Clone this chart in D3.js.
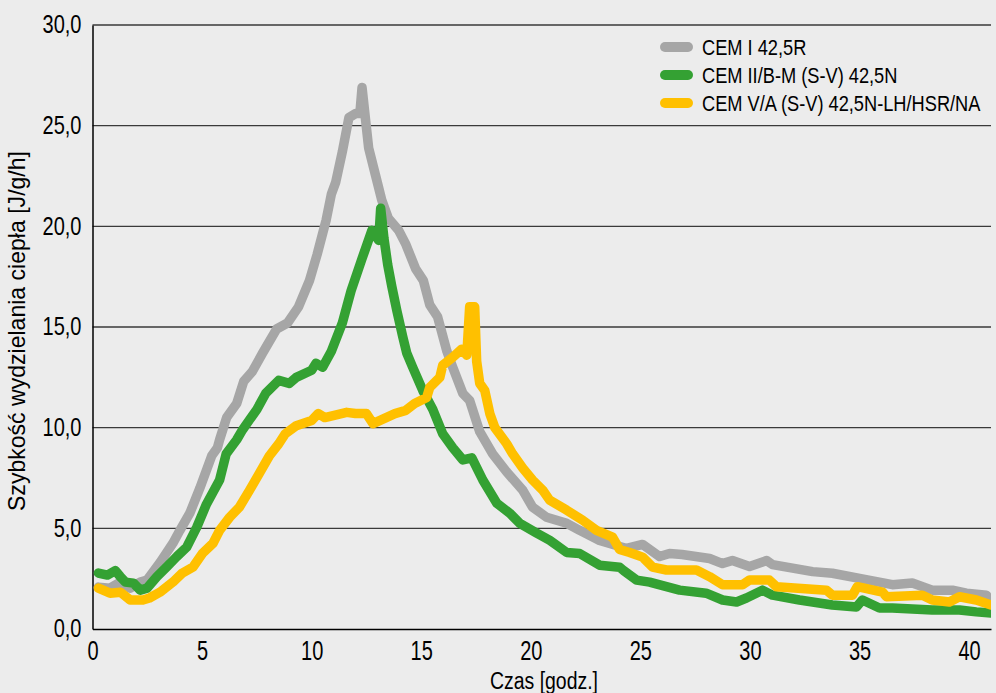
<!DOCTYPE html>
<html>
<head>
<meta charset="utf-8">
<script src="https://cdn.jsdelivr.net/npm/d3@7"></script>
<style>
  html, body { margin: 0; padding: 0; background: #ececec; }
  svg { display: block; }
  text { font-family: "Liberation Sans", Arial, sans-serif; fill: #000; }
</style>
</head>
<body>
<svg id="chart" width="996" height="693"></svg>
<script>
// ---- data (time [h], heat rate [J/g/h]) ----
const seriesNames = ["CEM I 42,5R", "CEM II/B-M (S-V) 42,5N", "CEM V/A (S-V) 42,5N-LH/HSR/NA"];
const seriesColors = ["#a6a6a6", "#34a133", "#ffc000"];

const cemI = [
  [0.27,2.08],[0.8,2.03],[1.27,2.33],[1.72,2.03],[2.18,2.33],[2.49,2.43],[3.08,3.3],[3.67,4.26],
  [3.99,4.9],[4.44,5.75],[4.9,7.0],[5.44,8.6],[5.7,9.0],[5.8,9.4],[6.12,10.5],[6.58,11.2],
  [6.9,12.3],[7.3,12.8],[7.76,13.7],[8.4,14.9],[8.9,15.2],[9.4,16.0],[9.9,17.3],[10.25,18.6],
  [10.66,20.3],[10.9,21.6],[11.1,22.2],[11.4,23.7],[11.7,25.4],[12.0,25.6],[12.2,25.6],[12.3,26.9],
  [12.47,25.2],[12.6,23.9],[12.9,22.6],[13.2,21.3],[13.5,20.4],[13.97,19.8],[14.3,19.1],[14.74,17.9],
  [15.1,17.3],[15.39,16.1],[15.75,15.5],[16.17,13.8],[16.44,13.0],[16.9,11.7],[17.21,11.35],[17.67,9.8],
  [18.26,8.7],[18.9,7.8],[19.63,6.9],[20.08,6.05],[20.72,5.55],[21.64,5.25],[22.23,4.9],[23.14,4.4],
  [23.6,4.25],[24.37,4.0],[25.1,4.2],[25.88,3.6],[26.33,3.75],[26.9,3.7],[28.16,3.5],[28.75,3.25],
  [29.2,3.4],[29.98,3.1],[30.76,3.4],[31.03,3.2],[32.86,2.85],[33.76,2.77],[35.3,2.45],[36.5,2.2],
  [37.41,2.28],[38.32,1.93],[39.24,1.93],[39.88,1.78],[40.79,1.68],[40.93,1.45]
];

const cemII = [
  [0.27,2.78],[0.68,2.68],[1.04,2.9],[1.27,2.6],[1.5,2.33],[1.87,2.28],[2.18,1.93],[2.49,2.03],
  [2.94,2.6],[3.4,3.1],[3.85,3.6],[4.3,4.07],[4.76,5.06],[5.2,6.2],[5.8,7.4],[6.1,8.7],
  [6.58,9.4],[6.85,9.9],[7.17,10.4],[7.5,10.9],[7.9,11.7],[8.5,12.35],[8.98,12.2],[9.3,12.5],
  [10.0,12.85],[10.2,13.2],[10.5,13.0],[10.9,13.8],[11.4,15.2],[11.8,16.8],[12.3,18.4],[12.75,19.8],
  [13.06,19.3],[13.15,20.9],[13.3,19.4],[13.47,18.1],[13.66,17.0],[13.89,15.8],[14.16,14.5],[14.34,13.7],
  [14.61,13.0],[15.07,11.85],[15.53,10.9],[15.98,9.7],[16.44,9.0],[16.9,8.4],[17.31,8.5],[17.81,7.4],
  [18.45,6.25],[19.04,5.75],[19.5,5.25],[20.27,4.76],[20.87,4.4],[21.64,3.8],[22.23,3.75],[23.14,3.17],
  [24.05,3.07],[24.24,2.9],[24.83,2.43],[25.42,2.33],[26.79,1.93],[28.0,1.78],[28.75,1.44],[29.39,1.34],
  [29.84,1.54],[30.57,1.93],[31.03,1.68],[32.26,1.44],[33.76,1.19],[34.86,1.09],[35.13,1.44],[35.91,1.04],
  [36.5,1.04],[38.32,0.94],[39.56,0.94],[40.33,0.85],[41.0,0.79]
];

const cemV = [
  [0.27,2.03],[0.8,1.78],[1.27,1.83],[1.72,1.44],[2.3,1.44],[2.6,1.54],[3.08,1.83],[3.67,2.33],
  [4.1,2.78],[4.58,3.07],[5.03,3.77],[5.5,4.26],[5.8,4.9],[6.26,5.55],[6.7,6.05],[7.17,6.9],
  [7.6,7.7],[8.07,8.6],[8.5,9.2],[8.8,9.7],[9.3,10.1],[10.0,10.36],[10.3,10.7],[10.6,10.5],
  [11.6,10.76],[12.0,10.7],[12.5,10.7],[12.8,10.2],[13.4,10.5],[13.8,10.7],[14.3,10.86],[14.7,11.2],
  [15.25,11.5],[15.39,12.0],[15.85,12.5],[15.98,13.1],[16.44,13.5],[16.85,13.9],[17.08,13.6],[17.21,16.0],
  [17.44,16.0],[17.53,13.3],[17.67,12.2],[17.9,11.85],[18.13,10.7],[18.36,10.0],[18.9,9.2],[19.17,8.7],
  [19.63,8.0],[20.08,7.4],[20.54,6.9],[20.86,6.4],[21.64,5.9],[22.37,5.4],[23.0,4.9],[23.73,4.56],
  [24.05,3.95],[24.51,3.8],[25.1,3.57],[25.56,3.07],[26.19,2.93],[27.56,2.93],[28.16,2.6],[28.75,2.2],
  [29.66,2.2],[29.98,2.43],[30.89,2.43],[31.21,2.1],[33.49,1.93],[33.76,1.68],[34.68,1.68],[34.9,2.1],
  [36.05,1.83],[36.23,1.6],[37.87,1.68],[38.32,1.44],[39.1,1.34],[39.56,1.6],[40.33,1.44],[41.0,1.19]
];

const xTicks = [0, 5, 10, 15, 20, 25, 30, 35, 40];
const yTicks = [0, 5, 10, 15, 20, 25, 30];
const xTitle = "Czas [godz.]";
const yTitle = "Szybkość wydzielania ciepła [J/g/h]";

// ---- layout ----
const svg = d3.select("#chart");
const L = 92.5, R = 991, T = 25, B = 629;
const x = d3.scaleLinear().domain([0, 41]).range([L, R]);
const y = d3.scaleLinear().domain([0, 30]).range([B, T]);
const fmt = v => d3.format(".1f")(v).replace(".", ",");

svg.append("rect").attr("width", 996).attr("height", 693).attr("fill", "#ececec");

// gridlines
svg.append("g").selectAll("line").data(yTicks.filter(d => d > 0)).join("line")
  .attr("x1", L).attr("x2", R)
  .attr("y1", d => y(d)).attr("y2", d => y(d))
  .attr("stroke", "#3a3a3a").attr("stroke-width", 1.4);

// y axis
const yAxis = svg.append("g").attr("transform", `translate(${L},0)`)
  .call(d3.axisLeft(y).tickValues(yTicks).tickFormat(fmt).tickSize(0).tickPadding(11));
yAxis.select(".domain").attr("stroke", "#000").attr("stroke-width", 1.5);
yAxis.selectAll("text").attr("font-size", 26).attr("dy", "0.3em").attr("data-k", 0.77).attr("class", "narrow")
  .style("font-family", '"Liberation Sans", Arial, sans-serif');

// x axis
const xAxis = svg.append("g").attr("transform", `translate(0,${B})`)
  .call(d3.axisBottom(x).tickValues(xTicks).tickFormat(d3.format("d")).tickSize(0).tickPadding(12));
xAxis.select(".domain").attr("stroke", "#000").attr("stroke-width", 1.5);
xAxis.selectAll("text").attr("font-size", 27).attr("dy", "0.71em").attr("data-k", 0.74).attr("class", "narrow")
  .style("font-family", '"Liberation Sans", Arial, sans-serif');

// axis titles
svg.append("text").attr("x", 544).attr("y", 689).attr("text-anchor", "middle")
  .attr("font-size", 23).attr("textLength", 108).attr("lengthAdjust", "spacingAndGlyphs").text(xTitle);
svg.append("text").attr("transform", "translate(25,331) rotate(-90)").attr("text-anchor", "middle")
  .attr("font-size", 24).attr("textLength", 360).attr("lengthAdjust", "spacingAndGlyphs").text(yTitle);

// clip
svg.append("clipPath").attr("id", "plotclip").append("rect")
  .attr("x", L).attr("y", 0).attr("width", R - L).attr("height", B);

const line = d3.line().x(d => x(d[0])).y(d => y(d[1]));
const allSeries = [cemI, cemII, cemV];
svg.append("g").attr("clip-path", "url(#plotclip)")
  .selectAll("path").data(allSeries).join("path")
  .attr("d", line)
  .attr("fill", "none")
  .attr("stroke", (d, i) => seriesColors[i])
  .attr("stroke-width", 9.5)
  .attr("stroke-linejoin", "round")
  .attr("stroke-linecap", "round");

// legend
const leg = svg.append("g").selectAll("g").data(seriesNames).join("g")
  .attr("transform", (d, i) => `translate(0,${47 + i * 28})`);
leg.append("line").attr("x1", 665).attr("x2", 688).attr("y1", 0).attr("y2", 0)
  .attr("stroke", (d, i) => seriesColors[i]).attr("stroke-width", 10).attr("stroke-linecap", "round");
leg.append("text").attr("transform", "translate(702,0) scale(0.81,1)").attr("dy", "0.36em")
  .attr("font-size", 22.5).text(d => d);

// condense tick texts to mimic a narrow typeface
svg.selectAll("text.narrow").each(function() {
  const k = +this.getAttribute("data-k");
  const len = this.getComputedTextLength();
  d3.select(this).attr("textLength", len * k).attr("lengthAdjust", "spacingAndGlyphs");
});
</script>
</body>
</html>
